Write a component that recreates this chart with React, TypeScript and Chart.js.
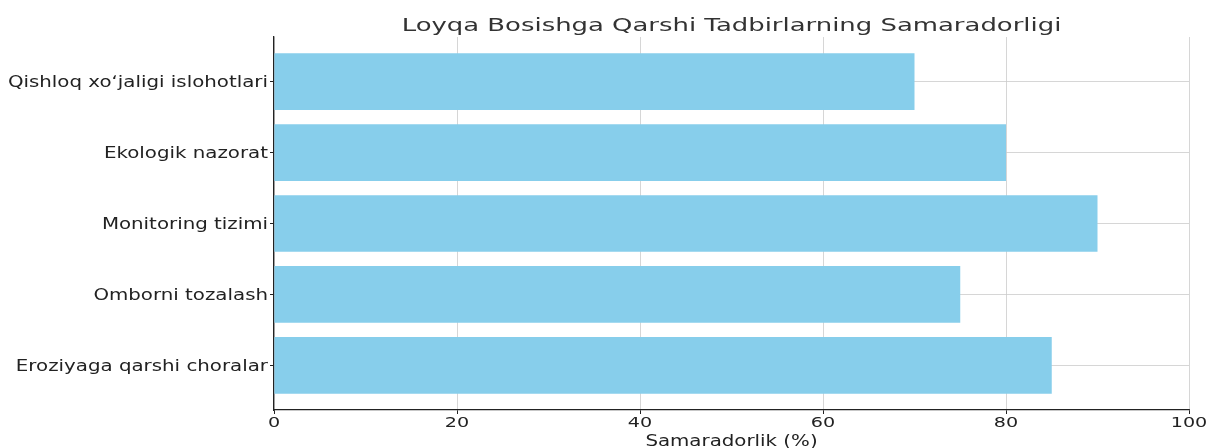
import React, { useEffect, useRef } from "react";
import { Chart, registerables } from "chart.js";

Chart.register(...registerables);

const titleText = "Loyqa Bosishga Qarshi Tadbirlarning Samaradorligi";
const xAxisTitle = "Samaradorlik (%)";
// bottom to top, as in the source figure
const categories = [
  "Eroziyaga qarshi choralar",
  "Omborni tozalash",
  "Monitoring tizimi",
  "Ekologik nazorat",
  "Qishloq xo\u02bbjaligi islohotlari",
];
const values = [85, 75, 90, 80, 70];
const xTicks = [0, 20, 40, 60, 80, 100];

const FONT = "'DejaVu Sans', sans-serif";
const TEXT_STRETCH = 1.32;
const TITLE_STRETCH = 1.4;

function drawStretched(
  ctx: CanvasRenderingContext2D,
  text: string,
  x: number,
  y: number,
  align: CanvasTextAlign,
  font: string,
  color: string,
  sx: number
) {
  ctx.save();
  ctx.translate(x, y);
  ctx.scale(sx, 1);
  ctx.font = font;
  ctx.fillStyle = color;
  ctx.textAlign = align;
  ctx.textBaseline = "alphabetic";
  ctx.fillText(text, 0, 0);
  ctx.restore();
}

const textPlugin = {
  id: "stretchedText",
  afterDraw(chart: any) {
    const { ctx, chartArea } = chart;
    const xs = chart.scales.x;
    const ys = chart.scales.y;
    const cx = (chartArea.left + chartArea.right) / 2;
    // title
    drawStretched(ctx, titleText, cx, chartArea.top - 6, "center", `18.5px ${FONT}`, "#333333", TITLE_STRETCH);
    // x tick labels
    xTicks.forEach((v) => {
      drawStretched(ctx, String(v), xs.getPixelForValue(v), chartArea.bottom + 17, "center", `14.5px ${FONT}`, "#222222", TEXT_STRETCH);
    });
    // y tick labels
    categories.forEach((c, i) => {
      drawStretched(ctx, c, chartArea.left - 6, ys.getPixelForValue(i) + 5.5, "right", `15px ${FONT}`, "#222222", TEXT_STRETCH);
    });
    // x axis title
    drawStretched(ctx, xAxisTitle, cx, chartArea.bottom + 36, "center", `15px ${FONT}`, "#222222", TEXT_STRETCH);
  },
};

const gridOpts = {
  color: "#cccccc",
  lineWidth: 0.8,
  borderDash: [3, 3],
  drawTicks: true,
  tickLength: 4,
  tickColor: "#222222",
  tickWidth: 1,
  tickBorderDash: [],
  offset: false,
};

export default function App() {
  const ref = useRef<HTMLCanvasElement | null>(null);

  useEffect(() => {
    document.body.style.margin = "0";
    const canvas = ref.current;
    if (!canvas) return;
    const chart = new Chart(canvas, {
      type: "bar",
      data: {
        datasets: [
          {
            data: values.map((v, i) => ({ x: v, y: i })),
            backgroundColor: "#87CEEB",
            borderWidth: 0,
            barPercentage: 0.8,
            categoryPercentage: 1,
          },
        ],
      },
      options: {
        indexAxis: "y",
        animation: false,
        responsive: false,
        maintainAspectRatio: false,
        layout: { padding: { top: 37, right: 20, left: 0, bottom: 0 } },
        plugins: {
          legend: { display: false },
          tooltip: { enabled: false },
          title: { display: false },
        },
        scales: {
          x: {
            type: "linear",
            position: "bottom",
            min: 0,
            max: 100,
            offset: false,
            afterBuildTicks: (scale: any) => {
              scale.ticks = xTicks.map((v) => ({ value: v }));
            },
            afterFit: (scale: any) => {
              scale.height = 38;
            },
            ticks: { display: false },
            grid: gridOpts,
            border: { display: true, color: "#222222", width: 1.3 },
            title: { display: false },
          },
          y: {
            type: "linear",
            position: "left",
            min: -0.63,
            max: 4.63,
            offset: false,
            afterBuildTicks: (scale: any) => {
              scale.ticks = categories.map((_, i) => ({ value: i }));
            },
            afterFit: (scale: any) => {
              scale.width = 274;
            },
            ticks: { display: false },
            grid: gridOpts,
            border: { display: true, color: "#222222", width: 1.3 },
          },
        },
      },
      plugins: [textPlugin],
    } as any);
    return () => chart.destroy();
  }, []);

  return (
    <div style={{ width: 1209, height: 448 }}>
      <canvas ref={ref} width={1209} height={448} style={{ display: "block" }} />
    </div>
  );
}
